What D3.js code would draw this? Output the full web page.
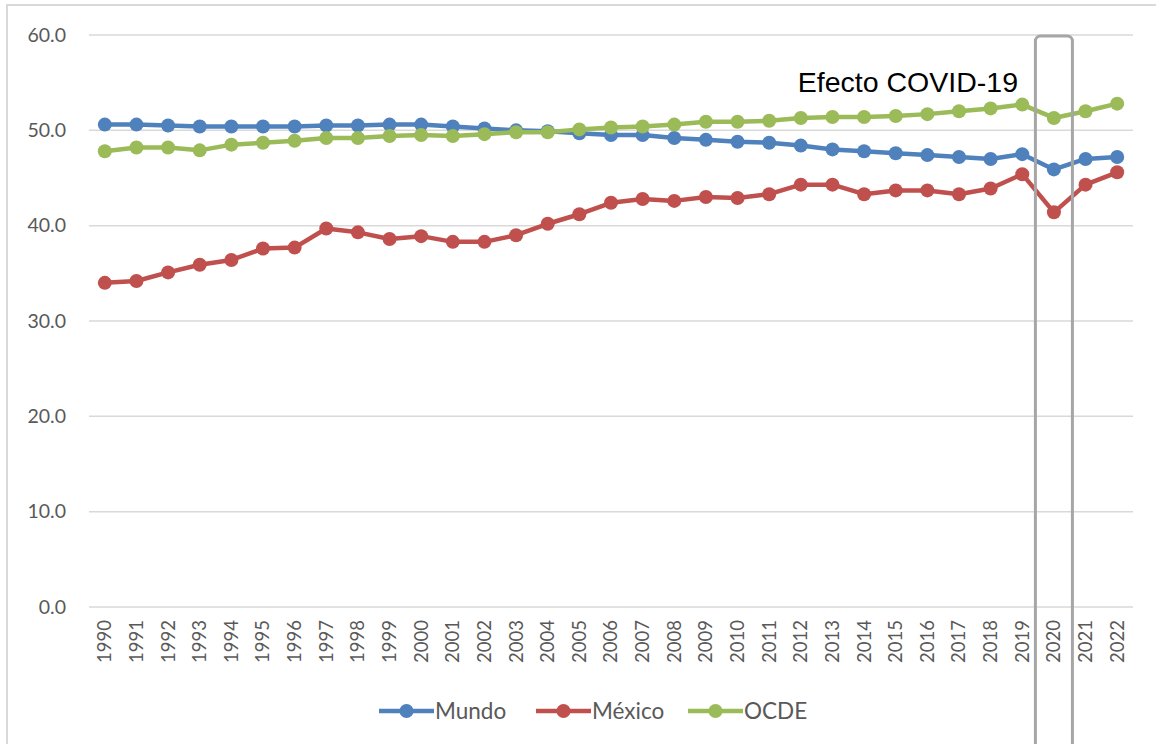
<!DOCTYPE html>
<html lang="es">
<head>
<meta charset="UTF-8">
<title>Mundo, México y OCDE</title>
<script src="https://d3js.org/d3.v7.min.js"></script>
<style>
  body { margin: 0; background: #fff; }
  svg { display: block; }
</style>
</head>
<body>
<svg id="chart" width="1156" height="744"></svg>
<script>
// data
const years = ["1990","1991","1992","1993","1994","1995","1996","1997","1998","1999","2000",
  "2001","2002","2003","2004","2005","2006","2007","2008","2009","2010","2011","2012",
  "2013","2014","2015","2016","2017","2018","2019","2020","2021","2022"];
const mundo = [50.6,50.6,50.5,50.4,50.4,50.4,50.4,50.5,50.5,50.6,50.6,50.4,50.2,50.0,49.9,
  49.7,49.5,49.5,49.2,49.0,48.8,48.7,48.4,48.0,47.8,47.6,47.4,47.2,47.0,47.5,45.9,47.0,47.2];
const mexico = [34.0,34.2,35.1,35.9,36.4,37.6,37.7,39.7,39.3,38.6,38.9,38.3,38.3,39.0,40.2,
  41.2,42.4,42.8,42.6,43.0,42.9,43.3,44.3,44.3,43.3,43.7,43.7,43.3,43.9,45.4,41.4,44.3,45.6];
const ocde = [47.8,48.2,48.2,47.9,48.5,48.7,48.9,49.2,49.2,49.4,49.5,49.4,49.6,49.8,49.8,
  50.1,50.3,50.4,50.6,50.9,50.9,51.0,51.3,51.4,51.4,51.5,51.7,52.0,52.3,52.7,51.3,52.0,52.8];
const yTicks = [0, 10, 20, 30, 40, 50, 60];
const seriesNames = ["Mundo", "México", "OCDE"];
const colors = ["#4f81bd", "#c0504d", "#9bbb59"];
const highlightYear = "2020";
const note = "Efecto COVID-19";

const series = [mundo, mexico, ocde];
const svg = d3.select("#chart");
const font = "Lato, 'Open Sans', sans-serif";

// outer frame (runs off the right and bottom of the picture)
svg.append("rect")
  .attr("x", 7).attr("y", 5)
  .attr("width", 1300).attr("height", 900)
  .attr("fill", "none").attr("stroke", "#d9d9d9").attr("stroke-width", 2);

const x = d3.scaleBand().domain(years).range([89, 1133]);
const y = d3.scaleLinear().domain([0, 60]).range([607, 35]);
const cx = d => x(d) + x.bandwidth() / 2;

// gridlines
svg.append("g")
  .selectAll("line").data(yTicks).enter().append("line")
  .attr("x1", 89).attr("x2", 1133)
  .attr("y1", d => y(d)).attr("y2", d => y(d))
  .attr("stroke", "#d9d9d9").attr("stroke-width", 1.5);

// y axis labels
const yAxis = svg.append("g").attr("transform", "translate(72,0)")
  .call(d3.axisLeft(y).tickValues(yTicks).tickFormat(d3.format(".1f")).tickSize(0).tickPadding(6));
yAxis.select(".domain").remove();
yAxis.selectAll("text")
  .style("font-family", font).style("font-size", "19.5px").attr("fill", "#595959");

// x axis labels (rotated)
const xAxis = svg.append("g").attr("transform", "translate(0,607)")
  .call(d3.axisBottom(x).tickSize(0));
xAxis.select(".domain").remove();
xAxis.selectAll("text")
  .style("font-family", font).style("font-size", "18.5px").attr("fill", "#595959")
  .attr("text-anchor", "end")
  .attr("dy", "0.35em")
  .attr("transform", "translate(0,13) rotate(-90)")
  .attr("x", 0).attr("y", 0);

// lines and markers
const line = d3.line().x((d, i) => cx(years[i])).y(d => y(d));
series.forEach((vals, s) => {
  svg.append("path")
    .datum(vals)
    .attr("d", line)
    .attr("fill", "none")
    .attr("stroke", colors[s])
    .attr("stroke-width", 4.5)
    .attr("stroke-linejoin", "round");
  svg.append("g")
    .selectAll("circle").data(vals).enter().append("circle")
    .attr("cx", (d, i) => cx(years[i]))
    .attr("cy", d => y(d))
    .attr("r", 7)
    .attr("fill", colors[s]);
});

// COVID highlight box
svg.append("rect")
  .attr("x", cx(highlightYear) - 18.5)
  .attr("y", 36)
  .attr("width", 37)
  .attr("height", 800)
  .attr("rx", 5)
  .attr("fill", "none")
  .attr("stroke", "#a6a6a6")
  .attr("stroke-width", 3);

svg.append("text")
  .attr("x", 1018).attr("y", 92)
  .attr("text-anchor", "end")
  .style("font-family", "'Liberation Sans', Arial, sans-serif")
  .style("font-size", "28.5px")
  .attr("fill", "#000")
  .text(note);

// legend
const legendX = [379, 536, 688];
const legend = svg.append("g");
seriesNames.forEach((name, s) => {
  const g = legend.append("g").attr("transform", `translate(${legendX[s]},711)`);
  g.append("line").attr("x1", 0).attr("x2", 55).attr("y1", 0).attr("y2", 0)
    .attr("stroke", colors[s]).attr("stroke-width", 4.5);
  g.append("circle").attr("cx", 27.5).attr("cy", 0).attr("r", 7).attr("fill", colors[s]);
  g.append("text").attr("x", 56).attr("y", 0).attr("dy", "0.35em")
    .style("font-family", font).style("font-size", "22.5px").attr("fill", "#595959")
    .text(name);
});
</script>
</body>
</html>
